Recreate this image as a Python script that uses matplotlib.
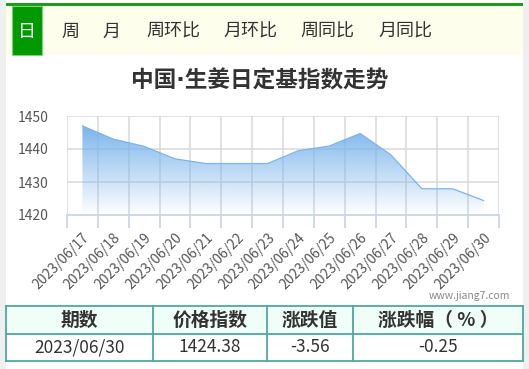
import numpy as np
import matplotlib

matplotlib.use("Agg")
import matplotlib.pyplot as plt
from matplotlib.patches import Rectangle, Polygon

plt.rcParams["font.family"] = ["Noto Sans CJK SC", "DejaVu Sans"]

# --- data ---
dates = ["2023/06/17", "2023/06/18", "2023/06/19", "2023/06/20", "2023/06/21",
         "2023/06/22", "2023/06/23", "2023/06/24", "2023/06/25", "2023/06/26",
         "2023/06/27", "2023/06/28", "2023/06/29", "2023/06/30"]
index_vals = [1447.0, 1443.0, 1440.8, 1437.0, 1435.6, 1435.6, 1435.6,
              1439.5, 1440.9, 1444.7, 1438.2, 1427.94, 1427.94, 1424.38]
yticks = [1420, 1430, 1440, 1450]

tabs = ["日", "周", "月", "周环比", "月环比", "周同比", "月同比"]
tab_x = [27, 70, 111, 173, 250, 327, 405]

table_header = ["期数", "价格指数", "涨跌值", "涨跌幅（ % ）"]
table_row = ["2023/06/30", "1424.38", "-3.56", "-0.25"]
col_edges = [6, 153, 267, 353, 523]

W, H = 529, 369
fig = plt.figure(figsize=(W / 100, H / 100), dpi=100)

# background / decoration layer in pixel coordinates
bg = fig.add_axes([0, 0, 1, 1], zorder=0)
bg.set_xlim(0, W)
bg.set_ylim(H, 0)
bg.axis("off")
bg.add_patch(Rectangle((0, 0), 6, H, color="#efefef", lw=0))
bg.add_patch(Rectangle((523, 0), 6, H, color="#efefef", lw=0))
bg.add_patch(Rectangle((6, 6), 517, 49, color="#fefeec", lw=0))
bg.add_patch(Rectangle((6, 3), 517, 3, color="#1a9e1a", lw=0))
bg.add_patch(Rectangle((12, 6), 30, 49, facecolor="#009900",
                       edgecolor="#7fd07f", lw=0.8))
for i, (t, x) in enumerate(zip(tabs, tab_x)):
    bg.text(x, 32, t, ha="center", va="center", fontsize=13,
            color="white" if i == 0 else "#333333")

# DejaVu first so the middle dot stays narrow; CJK glyphs fall back to Noto
bg.text(260, 81, "中国·生姜日定基指数走势", ha="center", va="center",
        fontsize=16.3, fontweight="bold", color="#333333",
        family=["DejaVu Sans", "Noto Sans CJK SC"])
bg.text(510, 296, "www.jiang7.com", ha="right", va="center",
        fontsize=7.5, color="#8a8a8a")

# table
bg.add_patch(Rectangle((6, 306), 517, 28, facecolor="#effff8", lw=0))
border = "#4fa89e"
for y in (306, 334, 361):
    bg.plot([6, 523], [y, y], color=border, lw=1.3)
for x in col_edges:
    bg.plot([x, x], [306, 361], color=border, lw=1.3)
for i in range(4):
    cx = (col_edges[i] + col_edges[i + 1]) / 2
    bg.text(cx, 320, table_header[i], ha="center", va="center",
            fontsize=13.5, fontweight="bold", color="#333333")
    bg.text(cx, 347.5, table_row[i], ha="center", va="center",
            fontsize=12.5, color="#333333")

# chart
ax = fig.add_axes([67 / W, 1 - 215 / H, (499 - 67) / W, 99 / H], zorder=1)
ax.set_facecolor("none")
xs = np.arange(len(dates))
ax.set_xlim(-0.5, len(dates) - 0.5)
ax.set_ylim(1420, 1450)

frac = np.linspace(0, 1, 256)
rgba = np.zeros((256, 1, 4))
rgba[:, 0, 0] = 124 / 255
rgba[:, 0, 1] = 181 / 255
rgba[:, 0, 2] = 236 / 255
rgba[:, 0, 3] = np.clip(frac * 30 / 27.0, 0, 1)
im = ax.imshow(rgba, extent=[-0.5, len(dates) - 0.5, 1420, 1450],
               origin="lower", aspect="auto", zorder=1, interpolation="bilinear")
verts = [(xs[0], 1420)] + list(zip(xs, index_vals)) + [(xs[-1], 1420)]
poly = Polygon(verts, closed=True, facecolor="none", edgecolor="none")
ax.add_patch(poly)
im.set_clip_path(poly)
ax.plot(xs, index_vals, color="#7cb5ec", lw=0.9, zorder=2)

ax.set_yticks(yticks)
ax.set_xticks(xs)
ax.set_xticklabels(dates, rotation=45, ha="right", va="top",
                   rotation_mode="anchor")
ax.set_xticks(np.arange(-0.5, len(dates)), minor=True)
ax.tick_params(axis="x", which="major", length=0, pad=11, labelsize=10,
               labelcolor="#555555")
ax.tick_params(axis="x", which="minor", length=9, width=1.3, color="#ccd6eb")
ax.tick_params(axis="y", length=0, pad=13, labelsize=10, labelcolor="#555555")
ax.grid(True, which="minor", axis="x", color="#d9d9d9", lw=1.1, zorder=0)
ax.grid(True, which="major", axis="y", color="#d9d9d9", lw=1.1, zorder=0)
for side in ("top", "left", "right"):
    ax.spines[side].set_visible(False)
ax.spines["bottom"].set_color("#ccd6eb")
ax.spines["bottom"].set_linewidth(1.3)
ax.set_axisbelow(True)

fig.savefig("out.png", dpi=100)
